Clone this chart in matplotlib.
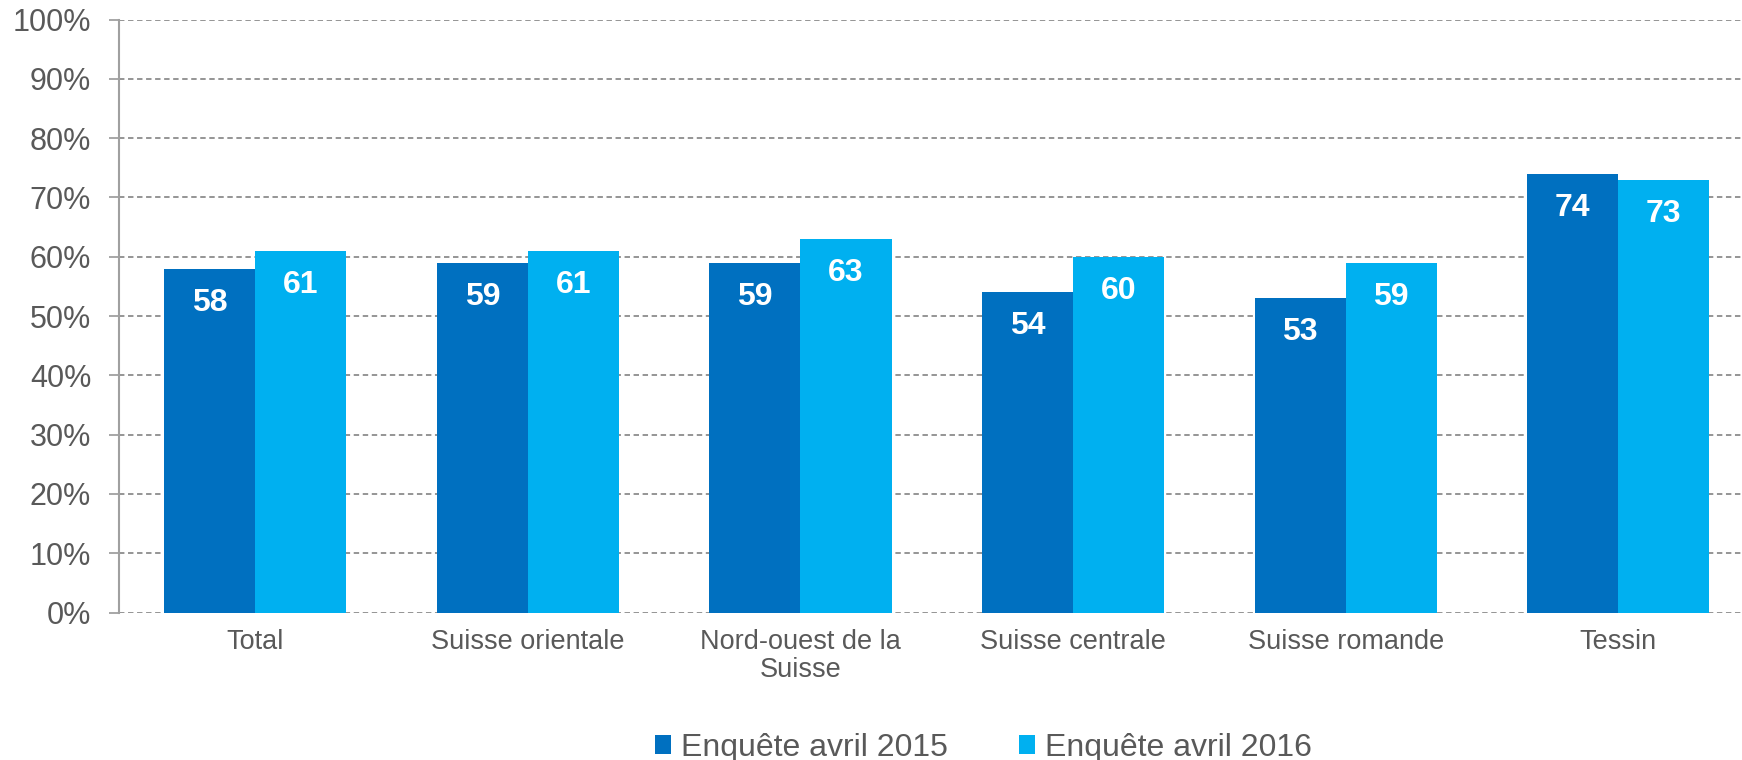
import numpy as np
import matplotlib
matplotlib.use('Agg')
import matplotlib.pyplot as plt
from matplotlib.ticker import FuncFormatter

plt.rcParams['font.family'] = ['Liberation Sans', 'DejaVu Sans']

# ---- données ----
categories = ['Total', 'Suisse orientale', 'Nord-ouest de la\nSuisse',
              'Suisse centrale', 'Suisse romande', 'Tessin']
series_names = ['Enquête avril 2015', 'Enquête avril 2016']
vals_2015 = [58, 59, 59, 54, 53, 74]
vals_2016 = [61, 61, 63, 60, 59, 73]
yticks = [0, 10, 20, 30, 40, 50, 60, 70, 80, 90, 100]

c_dark = '#0070C0'
c_light = '#00B0F0'
c_text = '#595959'
c_grid = '#8C8C8C'

fig = plt.figure(figsize=(17.42, 7.6), dpi=100)
ax = fig.add_axes([119 / 1742, 1 - 612.5 / 760, (1742 - 119) / 1742, (612.5 - 19.5) / 760])

x = np.arange(len(categories))
w = 0.334
b1 = ax.bar(x - w / 2, vals_2015, w, color=c_dark, label=series_names[0], zorder=3)
b2 = ax.bar(x + w / 2, vals_2016, w, color=c_light, label=series_names[1], zorder=3)

# étiquettes blanches dans le haut des barres
for bars, vals in ((b1, vals_2015), (b2, vals_2016)):
    for rect, v in zip(bars, vals):
        ax.annotate(str(v), xy=(rect.get_x() + rect.get_width() / 2, v),
                    xytext=(0, -24.5), textcoords='offset points',
                    ha='center', va='center', fontsize=23, fontweight='bold',
                    color='white', zorder=4)

ax.set_xlim(-0.5, 5.454)
ax.set_ylim(0, 100)
ax.set_yticks(yticks)
ax.yaxis.set_major_formatter(FuncFormatter(lambda v, p: f'{v:.0f}%'))
ax.set_xticks(x)
ax.set_xticklabels(categories, linespacing=1.1)

ax.grid(axis='y', linestyle=(0, (3, 2)), color=c_grid, linewidth=1.3, zorder=0)
for s in ('top', 'right', 'bottom'):
    ax.spines[s].set_visible(False)
ax.spines['left'].set_color('#A0A0A0')
ax.spines['left'].set_linewidth(1.5)

ax.tick_params(axis='y', labelsize=22, colors=c_text, length=7, width=1.3, pad=13)
ax.tick_params(axis='y', color='#A0A0A0')
ax.tick_params(axis='x', labelsize=19.5, colors=c_text, length=0, pad=12)

leg = fig.legend(handles=[b1, b2], loc='center left',
                 bbox_to_anchor=(655 / 1742, 0.016), frameon=False,
                 fontsize=23, handlelength=0.5, handleheight=0.5,
                 handletextpad=0.3, columnspacing=2.25, ncol=2, borderpad=0,
                 borderaxespad=0)
for t in leg.get_texts():
    t.set_color(c_text)

fig.savefig('out.png', dpi=100)
